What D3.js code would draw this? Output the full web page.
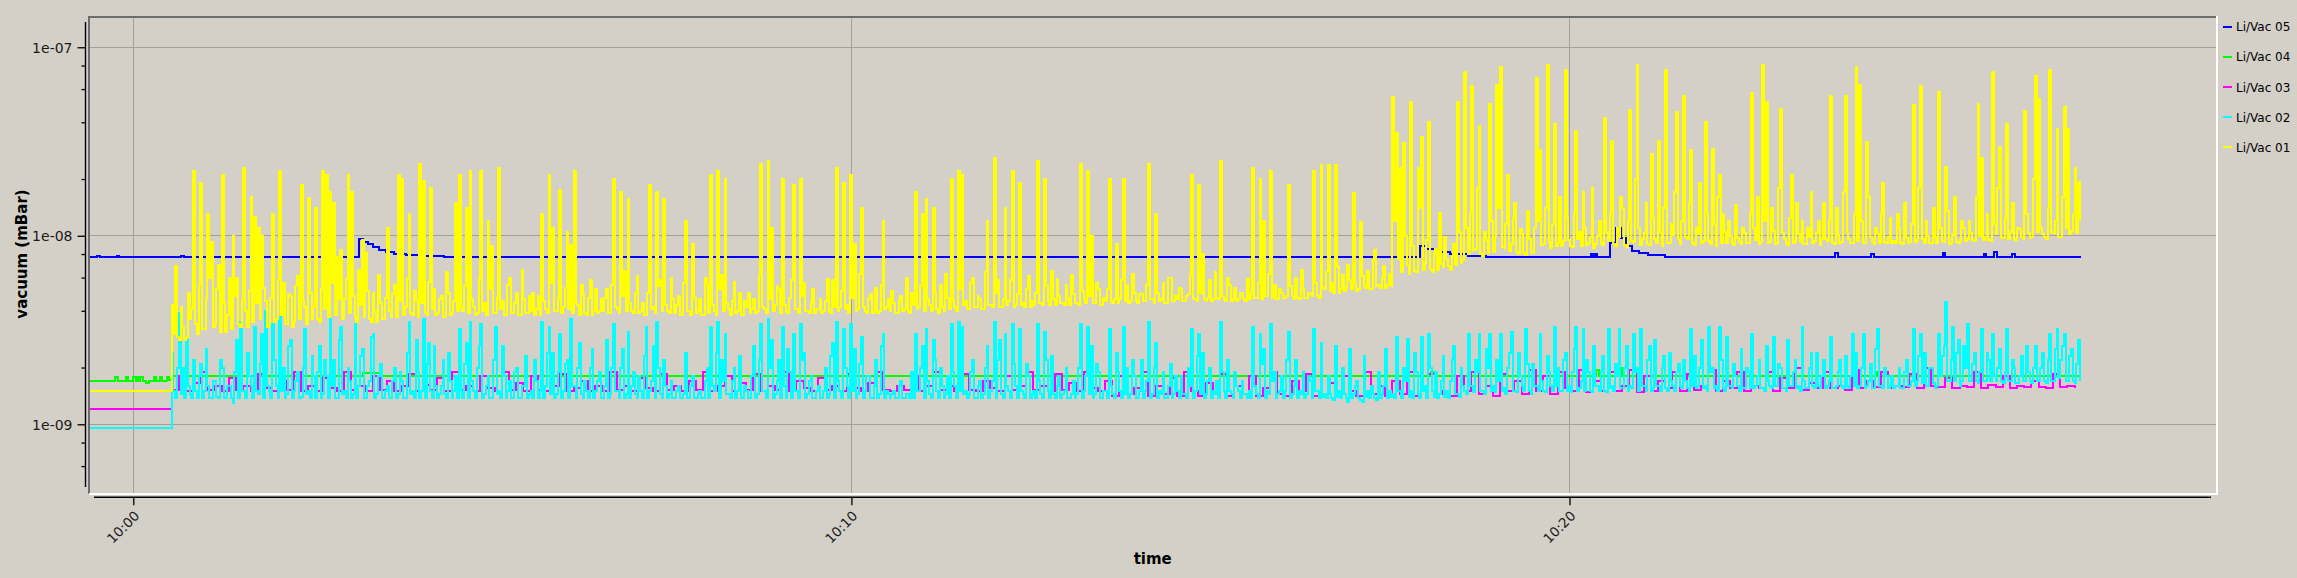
<!DOCTYPE html>
<html><head><meta charset="utf-8">
<script src="https://cdn.jsdelivr.net/npm/d3@7"></script>
<style>
html,body{margin:0;padding:0;background:#d4d0c8;}
svg{display:block;font-family:"DejaVu Sans",sans-serif;}
</style></head><body>
<svg id="chart" width="2297" height="578"></svg>
<script>
// ---------------- DATA (pressures in units of 1e-9 mBar) ----------------
const UNIT = 1e-9;
const seriesNames  = ["Li/Vac 05", "Li/Vac 04", "Li/Vac 03", "Li/Vac 02", "Li/Vac 01"];
const seriesColors = ["#0000ff", "#00ff00", "#ff00ff", "#00ffff", "#ffff00"];

const xTickSeconds = [0, 600, 1200];           // seconds after 10:00:00
const xTickLabels  = ["10:00", "10:10", "10:20"];
const yMajorTicks  = [1e-9, 1e-8, 1e-7];
const yTickLabels  = ["1e-09", "1e-08", "1e-07"];
const yMinorTicks  = [6e-10, 8e-10, 2e-9, 4e-9, 6e-9, 8e-9, 2e-8, 4e-8, 6e-8, 8e-8];

// levels before the pumps started (held from the left edge until 10:00:32)
const preLevel = { vac03: 1.21, vac02: 0.96, vac01: 1.51 };
const denseStart = 32;   // s after 10:00:00, first sample of the sampled series
const denseStep = 1.5;   // s between samples (Li/Vac 01 and 02)
const magStep = 6;       // s between samples (Li/Vac 03)

// Li/Vac 05 (blue) change points
const blueT = [-60,-30,-28,-14,-12,40,42,189,192,196,200,205,211,218,228,240,260,1075,1080,1088,1100,1115,1130,1218,1220,1221,1223,1234,1239,1243,1247,1252,1258,1266,1280,1422,1424,1452,1454,1512,1514,1546,1548,1555,1557,1570,1572,1627];
const blueV = [7.7,7.8,7.7,7.8,7.7,7.8,7.7,9.6,9.3,9.0,8.7,8.4,8.2,8.0,7.9,7.8,7.7,8.8,8.5,8.2,8.0,7.8,7.7,8.0,7.7,8.0,7.7,9.2,11,9.7,8.8,8.3,8.1,7.9,7.7,8.1,7.7,8.0,7.7,8.1,7.7,8.0,7.7,8.2,7.7,8.0,7.7,7.7];

// Li/Vac 04 (green) change points
const greenT = [-60,-15,-13,-6,-4,0,2,3,5,6,8,11,13,17,19,22,24,28,30,32,192,206,1084,1088,1222,1225,1238,1244,1457,1460,1627];
const greenV = [1.70,1.78,1.70,1.78,1.70,1.78,1.70,1.78,1.70,1.78,1.70,1.66,1.70,1.78,1.70,1.78,1.70,1.78,1.72,1.80,1.87,1.80,1.9,1.80,1.95,1.80,2.0,1.80,1.9,1.80,1.80];

// Li/Vac 03 (magenta), one row per minute, every 6 s from 10:00:32
const magentaV = [
1.52,1.8,1.5,1.65,1.9,1.52,1.6,1.5,1.75,1.52,
1.6,1.5,1.85,1.55,1.5,1.7,1.52,1.9,1.5,1.6,
1.5,1.75,1.55,1.5,1.9,1.52,1.6,1.5,1.8,1.52,
1.7,1.5,1.6,1.85,1.5,1.62,1.52,1.75,1.5,1.9,
1.52,1.6,1.5,1.8,1.55,1.5,1.9,1.52,1.65,1.5,
1.8,1.52,1.5,1.6,1.85,1.5,1.55,1.7,1.5,1.6,
1.5,1.9,1.52,1.6,1.5,1.75,1.55,1.5,1.85,1.52,
1.6,1.5,1.7,1.52,1.9,1.5,1.6,1.8,1.5,1.65,
1.52,1.85,1.5,1.6,1.52,1.9,1.5,1.7,1.55,1.5,
1.75,1.52,1.6,1.5,1.85,1.55,1.5,1.65,1.9,1.52,
1.5,1.6,1.52,1.8,1.5,1.6,1.9,1.52,1.6,1.5,
1.85,1.52,1.5,1.7,1.55,1.5,1.8,1.52,1.6,1.9,
1.52,1.6,1.5,1.85,1.52,1.65,1.5,1.9,1.55,1.5,
1.7,1.42,1.8,1.45,1.55,1.9,1.42,1.6,1.45,1.75,
1.42,1.9,1.5,1.42,1.65,1.45,1.85,1.42,1.6,1.45,
1.8,1.42,1.55,1.9,1.45,1.42,1.7,1.5,1.85,1.42,
1.45,1.65,1.42,1.8,1.5,1.42,1.9,1.45,1.6,1.42,
1.7,1.45,1.9,1.42,1.6,1.85,1.45,1.5,1.42,1.8,
1.5,1.9,1.45,1.6,1.42,1.85,1.5,1.7,1.45,1.95,
1.5,1.8,1.45,1.9,1.55,1.5,1.95,1.48,1.7,1.5,
1.9,1.5,1.6,1.95,1.48,1.8,1.5,1.7,1.55,1.9,
1.5,1.85,1.52,1.6,1.95,1.5,1.7,1.55,1.9,1.5,
1.6,1.55,1.9,1.5,1.75,1.55,2.0,1.52,1.65,1.55,
1.9,1.55,1.6,1.52,1.95,1.55,1.7,1.58,1.9,1.55,
1.6,1.58,1.85,1.55,2.0,1.6,1.58,1.75,1.56,1.6,
1.58,1.9,1.56,1.62,1.58,1.8,1.56,1.6,1.57,1.7,
1.58,1.56,1.85,1.57,1.6,1.56
];

// Li/Vac 02 (cyan), one row per minute, every 1.5 s from 10:00:32
const cyanV = [
2.4,1.5,1.38,2.0,3.9,1.45,2.0,1.38,2.8,1.6,1.45,1.38,2.2,1.5,1.38,1.8,2.1,1.38,1.5,2.5,1.6,1.38,1.38,1.7,1.7,1.4,1.38,2.2,2.0,1.38,1.38,1.6,1.6,1.38,1.3,1.9,2.8,1.38,3.5,1.5,
1.5,1.38,2.4,1.8,1.6,1.38,3.3,1.5,1.45,2.1,3.0,1.38,4.0,1.6,1.5,1.38,3.4,2.2,1.6,1.38,3.7,1.5,2.0,1.38,1.45,2.6,2.8,1.38,1.5,1.7,1.9,1.38,1.4,2.0,3.2,1.45,1.5,1.38,2.3,1.8,
1.38,1.9,2.6,1.38,1.45,2.2,1.8,1.38,3.6,1.6,2.2,1.38,1.38,2.8,3.3,1.45,1.5,1.38,2.0,1.7,1.38,1.45,3.4,1.38,1.6,2.3,2.5,1.38,1.38,1.6,1.7,2.9,3.0,1.38,1.45,1.8,2.1,1.38,1.38,1.5,
1.6,1.38,1.38,1.7,2.0,1.38,1.45,1.9,1.7,1.38,1.38,2.4,3.5,1.45,1.5,1.38,2.8,1.9,1.38,1.5,3.6,1.38,2.1,2.7,1.5,1.38,2.6,1.6,1.38,1.45,1.6,2.2,1.45,1.38,2.4,1.7,1.38,1.5,1.8,1.38,
3.2,1.5,1.38,2.1,2.7,1.38,3.5,1.7,1.5,1.38,2.0,2.6,3.4,1.38,1.45,1.6,1.8,1.38,1.38,2.2,3.3,1.45,1.5,1.38,2.6,1.8,1.38,1.5,1.7,1.38,1.38,1.9,2.0,1.38,1.38,1.6,1.6,2.3,1.38,1.45,
1.5,1.38,2.2,1.7,1.38,1.5,3.5,1.38,1.6,2.4,3.3,1.45,2.4,1.38,1.45,1.9,3.0,1.38,1.5,2.1,2.2,1.38,3.6,1.6,1.6,1.38,2.0,2.7,1.45,1.38,1.7,1.5,1.38,2.0,2.5,1.38,1.5,1.7,1.9,1.38,
1.38,1.6,2.8,1.38,1.45,2.0,3.4,1.5,1.5,1.38,2.0,2.5,1.38,1.45,3.1,1.38,1.6,1.9,1.45,1.38,1.8,1.5,1.38,2.3,3.3,1.38,1.5,1.7,2.6,1.38,3.5,2.0,1.45,1.38,2.2,1.6,1.38,1.45,1.7,1.38,
1.38,1.5,1.6,1.38,1.38,1.45,2.4,1.38,1.38,1.6,1.8,1.38,1.38,1.45,1.5,1.38,1.38,1.7,2.0,1.38,3.3,1.6,1.5,2.4,3.5,1.38,2.2,1.7,3.0,1.45,1.45,1.38,1.7,2.0,1.38,1.5,2.3,1.38,1.38,1.6,
1.5,1.38,1.38,1.8,2.6,1.38,1.45,2.2,3.4,1.5,1.5,1.38,3.6,2.0,2.8,1.38,1.45,1.7,2.2,1.38,3.3,1.6,1.38,2.5,1.9,1.38,3.0,1.5,1.5,1.38,3.4,2.2,2.4,1.38,1.45,1.7,1.8,1.38,1.38,1.5,
1.6,1.38,1.38,1.5,2.0,1.38,1.45,2.3,2.7,1.38,3.5,1.7,1.5,1.38,3.2,2.0,1.6,1.38,3.4,1.5,2.5,1.38,1.45,2.1,2.9,1.38,1.5,1.8,1.8,1.38,1.38,1.6,2.2,1.38,1.45,2.6,3.0,1.38,1.5,1.45,
1.38,1.45,1.5,1.38,1.38,1.6,1.7,1.38,1.38,1.45,1.45,1.38,1.9,1.38,3.0,1.5,1.5,2.0,2.6,1.38,3.2,1.7,1.45,1.38,2.8,2.2,1.5,1.38,2.0,1.6,1.38,1.45,1.8,1.38,3.4,1.9,1.6,1.38,3.5,1.5,
3.3,1.45,1.5,1.38,1.45,1.9,2.2,1.38,1.38,1.6,1.7,1.38,1.45,2.0,2.6,1.38,1.5,1.7,3.5,1.38,2.2,2.8,1.45,1.38,3.0,1.6,1.5,1.38,3.4,2.1,1.6,1.38,3.2,1.5,1.45,1.38,2.1,1.8,1.38,1.45,
1.5,1.38,3.4,1.7,1.45,1.38,3.1,2.2,1.5,1.38,2.3,1.45,1.38,1.6,1.8,1.38,1.45,1.5,2.0,1.38,1.38,1.45,1.7,1.38,1.45,2.0,3.4,1.38,1.5,1.8,3.3,1.45,2.6,1.38,1.45,2.1,1.9,1.38,1.38,1.5,
1.5,1.38,3.2,1.6,1.45,1.38,2.4,1.9,1.5,1.38,3.3,1.45,2.0,1.38,1.45,2.2,1.8,1.38,1.38,1.5,2.2,1.38,1.5,1.7,3.5,1.38,1.45,2.0,2.7,1.38,1.5,1.45,1.9,1.38,1.38,1.6,2.1,1.38,1.45,1.8,
1.5,1.38,1.8,1.45,1.45,1.38,2.0,1.6,3.2,1.38,1.5,2.3,3.0,1.45,2.4,1.38,1.45,1.7,2.0,1.38,1.5,1.45,1.7,1.38,3.5,1.9,1.5,1.38,2.2,1.5,1.45,1.38,1.9,1.6,1.5,1.38,1.7,1.45,1.45,1.38,
1.5,1.38,3.3,1.6,1.45,1.38,3.0,2.1,2.5,1.38,1.5,1.45,3.4,1.7,1.9,1.38,1.45,1.5,1.8,1.38,1.5,2.2,3.1,1.38,1.45,1.6,2.2,1.38,1.5,1.45,1.9,1.38,1.45,1.8,1.7,1.38,3.2,1.5,1.5,1.38,
2.7,1.4,1.45,1.38,1.8,1.45,1.38,1.35,2.6,1.4,1.5,1.38,2.0,1.45,1.38,1.32,2.5,1.38,1.45,1.6,1.7,1.38,1.35,1.32,2.3,1.4,1.5,1.38,1.6,1.45,1.38,1.35,1.9,1.38,1.45,1.6,2.5,1.38,1.5,1.4,
1.45,1.38,2.9,1.5,1.5,1.38,2.0,1.7,2.85,1.4,1.5,1.38,2.4,1.9,1.45,1.38,2.9,1.5,1.6,1.38,3.0,2.0,1.5,1.4,1.9,1.38,1.45,1.7,2.3,1.4,1.5,1.38,1.7,2.2,2.6,1.45,1.45,1.4,2.0,1.6,
1.5,1.45,3.0,1.6,1.6,1.48,2.2,1.9,3.0,1.5,1.5,1.45,2.5,2.0,3.0,1.5,1.6,1.48,2.2,1.7,3.0,1.5,1.55,1.45,2.0,2.4,3.1,1.5,1.5,1.48,2.4,1.8,1.6,1.5,3.2,2.1,1.5,1.45,2.1,1.6,
1.6,1.5,3.0,1.7,1.5,1.48,2.3,1.9,1.6,1.5,3.3,1.6,2.0,1.5,1.5,2.2,2.4,1.5,1.6,1.48,1.9,2.5,3.3,1.5,1.55,1.7,3.2,1.5,2.2,1.9,1.5,1.48,2.6,1.6,1.6,1.5,1.9,2.3,1.5,1.48,
3.2,1.55,1.6,1.5,2.1,1.8,3.2,1.55,1.55,2.0,2.6,1.5,1.6,1.55,3.0,1.9,2.0,1.5,3.2,1.6,1.6,1.5,2.2,2.6,1.5,1.55,2.8,1.6,1.6,1.5,2.0,2.3,1.55,1.5,2.4,1.7,1.6,1.5,1.9,2.1,
1.6,1.55,2.2,1.7,1.55,1.5,3.2,1.6,2.3,1.55,1.6,2.0,2.8,1.55,1.6,1.5,3.3,1.9,2.0,1.55,1.6,1.5,3.3,2.2,1.55,1.5,2.9,1.6,1.6,1.55,2.1,1.8,1.6,1.5,2.5,1.55,1.55,2.0,1.9,1.55,
3.0,1.55,1.6,1.8,2.2,1.55,1.55,1.5,2.6,1.7,1.6,1.55,2.9,1.6,1.6,2.1,2.0,1.55,1.55,1.5,2.8,1.6,1.6,1.9,2.2,1.55,1.6,1.5,3.3,1.7,1.55,1.55,2.0,2.4,1.6,1.55,2.4,1.6,1.55,1.8,
2.2,1.55,1.6,1.7,2.9,1.55,1.55,1.6,1.9,2.2,1.6,1.55,2.3,1.6,1.55,1.8,3.0,1.6,2.4,1.55,1.6,2.0,3.0,1.55,1.6,1.7,2.1,1.55,1.55,2.5,3.2,1.6,1.6,1.55,2.0,1.8,1.55,1.6,1.8,1.55,
1.6,1.6,2.0,1.55,1.55,1.9,2.2,1.6,1.6,1.7,3.2,1.6,1.7,2.3,3.0,1.65,2.4,1.6,1.6,2.0,2.0,1.65,1.55,1.6,3.0,1.8,2.3,2.6,4.45,1.7,1.7,2.2,3.3,1.7,2.4,2.8,1.6,1.7,2.6,2.0,
3.4,1.7,1.7,2.1,2.4,1.7,1.65,1.9,3.2,1.7,1.7,2.4,2.2,1.7,3.0,1.8,1.7,2.0,2.5,1.7,1.65,1.9,3.2,1.7,1.7,2.2,2.0,1.65,1.65,1.8,2.3,1.7,1.7,2.6,1.9,1.7,1.65,2.0,2.6,1.7,
1.7,2.0,2.4,1.7,1.65,2.2,3.0,1.7,1.7,2.5,3.2,1.75,2.2,2.6,3.0,1.7,1.7,2.3,2.5,1.7,1.65,2.1,2.8,1.7
];

// Li/Vac 01 (yellow), one row per minute, every 1.5 s from 10:00:32
const yellowV = [
4.3,3.0,6.9,2.9,2.8,4.2,3.3,2.8,2.9,5.0,3.6,4.1,22,3.4,3.0,5.5,19,3.2,3.2,4.6,13,6.0,9.3,3.3,3.4,5.2,7.0,3.1,21,4.4,3.1,3.8,6.0,3.2,10,4.8,6.0,3.4,3.3,4.5,
23,4.0,3.3,5.1,16,3.5,12.6,4.4,11,3.6,10,5.3,4.5,3.3,3.4,4.7,13,3.5,3.6,5.8,22,3.8,5.6,3.4,3.4,4.9,4.8,3.3,3.5,5.4,6.1,3.6,18.6,4.5,4.2,3.4,15.8,5.0,3.6,4.2,
14,3.6,3.5,5.2,22,4.1,21,3.7,17,5.6,15,3.8,7.7,4.6,8.4,3.6,4.6,5.9,21,3.9,17,4.8,3.7,3.5,6.6,4.3,9.5,3.7,8.1,5.1,3.6,3.5,5.0,4.0,3.5,6.2,4.4,3.6,3.6,4.7,
11,4.0,3.7,4.9,5.5,3.7,21,4.5,20,3.8,4.2,6.0,13,3.9,3.8,5.1,4.5,3.7,24,4.4,19.5,3.9,3.8,5.7,18,4.1,5.2,3.8,3.9,4.6,4.8,3.7,3.7,6.4,5.0,3.8,3.9,4.5,15,4.0,
21,4.2,4.0,5.4,14,3.9,22,4.6,4.2,3.8,3.9,5.9,22,4.0,4.4,3.8,12,5.2,8.8,3.9,3.9,4.7,23,4.1,4.5,3.8,3.8,5.5,6.0,3.9,3.9,4.4,5.0,3.8,3.8,6.6,4.6,3.9,3.9,4.8,
4.0,5.0,3.8,4.1,4.8,3.8,13,4.5,4.1,3.9,21,5.6,11,4.0,4.0,4.6,17.5,3.9,4.2,5.3,10.5,4.1,8.9,3.9,22,4.4,4.3,3.8,5.5,4.9,3.9,3.8,4.7,5.8,3.8,4.0,5.2,3.9,4.0,4.6,
4.0,4.7,5.2,3.9,3.9,5.5,20,4.2,4.1,3.9,17,4.8,6.5,4.0,15.6,4.4,4.0,3.9,5.0,6.1,3.9,4.0,4.4,3.8,3.8,5.0,18.7,4.1,4.2,3.9,17,5.4,5.8,4.0,15.6,4.3,4.0,3.9,6.0,4.6,
3.9,4.3,4.8,3.8,3.8,5.6,12,4.0,4.0,3.8,9.0,4.7,3.9,4.0,4.6,3.8,3.8,6.0,5.5,3.9,21,4.3,4.0,3.8,22,5.2,6.2,4.0,20,4.4,4.1,3.8,4.5,5.7,3.9,4.0,5.0,3.8,3.8,4.5,
4.2,5.0,3.9,4.1,4.6,3.9,4.0,6.2,24,4.2,4.1,3.9,25,4.6,11,4.0,4.3,5.4,5.2,3.9,20,4.3,4.0,3.9,4.7,5.8,18.7,4.1,4.1,3.9,20,4.8,5.6,4.0,4.0,3.9,4.4,5.2,3.9,4.1,
4.1,4.6,3.9,4.0,4.5,5.9,4.0,3.9,5.8,4.2,23,4.0,4.2,5.1,19,4.1,4.3,3.9,21,4.7,9.0,4.0,4.1,6.3,14,4.2,4.0,3.9,4.6,4.9,3.9,4.0,5.3,3.9,4.0,5.5,12,4.1,4.2,4.6,
4.0,5.1,4.4,3.9,3.9,4.5,4.8,4.0,4.1,6.0,4.0,3.9,5.0,4.3,17,4.1,4.2,5.4,13,4.0,15.6,4.6,4.3,4.0,14,5.0,4.1,3.9,5.5,4.2,4.0,6.3,4.7,4.1,20,4.5,4.2,4.0,22,5.2,
21,4.3,4.5,4.1,4.1,5.6,6.0,4.2,4.2,4.8,4.6,4.1,4.1,6.4,12,4.3,4.3,4.2,26,5.0,5.8,4.2,4.2,4.6,14,4.3,4.5,5.8,22,4.2,4.3,4.9,19,4.3,4.4,4.2,5.2,6.1,4.2,4.5,
4.3,5.0,25,4.4,4.4,4.3,20,5.4,4.5,4.3,6.5,4.6,4.3,5.9,4.8,4.4,4.4,4.3,5.5,4.7,4.3,6.2,4.9,4.4,4.4,4.3,24,5.1,4.6,4.4,22,4.8,10,4.4,4.4,5.6,5.2,4.3,4.3,4.7,
4.5,5.2,20,4.5,4.4,4.6,9.0,4.4,4.6,5.8,20,4.5,5.5,4.4,4.5,6.3,5.0,4.5,4.4,4.9,4.9,4.5,4.5,5.5,24,4.6,4.6,4.4,13,5.0,4.5,4.6,5.6,4.4,4.4,6.0,6.0,4.5,4.5,4.8,
4.6,5.3,5.2,4.5,4.5,4.8,4.9,6.2,21,4.6,4.6,4.5,18.7,5.0,8.0,4.6,4.5,4.7,5.8,4.5,4.6,6.4,4.7,4.6,25,4.8,4.6,4.5,6.0,5.5,4.5,4.6,5.3,4.5,4.6,5.0,5.0,4.6,4.5,5.9,
4.6,5.0,23,4.7,4.7,5.6,20,4.6,12,4.8,4.8,6.3,22,4.7,5.5,4.6,4.6,5.2,5.0,4.7,4.7,4.8,18.7,5.4,4.8,4.6,6.0,4.7,4.6,6.6,5.2,4.7,4.7,5.0,4.9,4.8,22,5.6,4.8,4.7,
23.7,5.3,5.2,6.4,23.7,5.1,5.6,5.0,23.7,6.8,5.0,5.2,6.2,5.1,5.3,7.0,5.8,5.2,16.8,5.6,5.1,5.2,11.9,6.1,5.4,5.3,6.5,5.2,5.2,7.4,8.4,5.4,5.5,5.3,6.0,6.9,5.3,5.5,6.3,5.4,
54.7,12,35,7.5,23,6.4,31,10,7.0,6.3,51.5,8.8,6.5,6.4,23,14,33.5,6.6,7.2,9.5,40.3,6.7,6.4,8.0,8.5,6.6,13.2,7.1,6.8,9.8,7.5,6.9,6.6,7.8,9.0,7.0,51.5,10.5,7.2,7.4,
74.3,11,8.0,13,62.4,8.4,8.5,18,38,8.0,7.8,10.5,9.5,8.1,50,12,8.2,9.8,63,14,79,8.7,8.6,11.5,21,8.3,9.0,12.5,15,8.2,8.0,10.8,10.2,8.1,7.9,13.5,9.6,8.2,8.1,11,
68.5,12,28.5,8.9,9.0,14,80.5,9.3,8.6,11.5,39,8.8,9.2,16,8.8,9.4,76,12.5,9.5,8.8,8.7,13,36,9.6,10.5,8.8,17,11,8.9,9.2,9.8,18,8.6,9.0,10.0,12,9.1,8.9,42,10.5,
9.4,13,32,9.0,8.8,11,9.9,16,14,8.9,8.7,12,46.5,9.4,9.3,20,80.5,11,8.9,9.6,10.4,15,9.0,8.9,27,12.5,9.6,9.1,32,10.5,8.8,14,76,9.2,9.2,11.5,10.1,17,45.5,9.6,
9.0,12,55,9.8,9.6,15,28.5,9.1,8.9,11,10.2,19,9.1,9.4,40,13,9.4,9.0,29,11.5,8.8,16,21,9.2,13,10.5,9.2,12,10.0,9.1,8.9,14.5,9.7,9.3,9.0,11,10.4,9.2,9.2,13,
57,11,9.5,16,9.0,9.3,80.5,12,51,9.2,9.3,14,10.6,9.0,9.1,18,47,10.5,9.6,9.2,8.9,12.5,21,9.1,9.4,15,10.2,9.3,12,9.0,9.0,11,9.8,17,9.2,9.4,10.3,12,8.9,9.6,
15,9.6,9.4,12,55,9.2,9.0,14,10.1,9.1,9.3,17,55,10.5,9.6,9.2,9.1,13,79,9.4,63,12,9.2,9.1,31.5,16,9.8,9.3,9.0,11,10.2,9.2,13,19,9.3,9.1,9.9,12.5,9.1,9.4,
9.2,13,11,9.1,9.0,15,9.7,9.2,9.3,11.5,49.5,9.3,9.5,18,62,9.6,9.1,12,10.0,9.2,9.2,14,9.8,9.1,58,11,9.4,9.3,23.3,13.5,9.0,9.1,10.1,16,9.3,9.2,9.5,12,11,9.4,
9.6,12,10.3,9.5,9.4,16,50,10,26,9.5,9.8,13,9.5,9.4,74,11.5,10.2,18,29.6,9.7,9.7,12.5,39,9.6,10.5,15,9.6,9.5,11,10.8,9.8,9.6,46,13,10.4,9.7,9.9,20,70,10.5,
53,11,10.2,9.8,9.6,14,76,10.5,10.4,12,37,9.9,9.9,16,48,11,37,10.2,10.6,13,23,10.4,19.3,12
];

// ---------------- CHART ----------------
const base = new Date(2024, 0, 1, 10, 0, 0);
const sec = s => new Date(base.getTime() + s * 1000);

const plot = { left: 89, top: 17, right: 2217, bottom: 494 };
const x = d3.scaleTime().domain([sec(-37), sec(1741)]).range([plot.left, plot.right]);
const y = d3.scaleLog().domain([4.267e-10, 1.4475e-7]).range([plot.bottom, plot.top]);

const svg = d3.select("#chart");
svg.append("rect").attr("width", 2297).attr("height", 578).attr("fill", "#d4d0c8");

// grid
const grid = svg.append("g").attr("stroke", "#a3a09c").attr("stroke-width", 1.2).attr("shape-rendering", "crispEdges");
xTickSeconds.forEach(s => grid.append("line").attr("x1", x(sec(s))).attr("x2", x(sec(s))).attr("y1", plot.top).attr("y2", plot.bottom));
yMajorTicks.forEach(v => grid.append("line").attr("x1", plot.left).attr("x2", plot.right).attr("y1", y(v)).attr("y2", y(v)));

// series
svg.append("clipPath").attr("id", "clip").append("rect")
  .attr("x", plot.left + 1).attr("y", plot.top + 1)
  .attr("width", plot.right - plot.left - 2).attr("height", plot.bottom - plot.top - 2);

const fromPairs = (T, V) => T.map((t, i) => ({ t: sec(t), v: V[i] * UNIT }));
const fromGrid = (pre, start, step, V) =>
  [{ t: sec(-60), v: pre * UNIT }].concat(V.map((v, i) => ({ t: sec(start + i * step), v: v * UNIT })));

const series = [
  fromPairs(blueT, blueV),
  fromPairs(greenT, greenV),
  fromGrid(preLevel.vac03, denseStart, magStep, magentaV),
  fromGrid(preLevel.vac02, denseStart, denseStep, cyanV),
  fromGrid(preLevel.vac01, denseStart, denseStep, yellowV)
];

const line = d3.line().x(d => x(d.t)).y(d => y(d.v)).curve(d3.curveStepAfter);
const gData = svg.append("g").attr("clip-path", "url(#clip)");
series.forEach((s, i) => {
  gData.append("path").datum(s).attr("d", line)
    .attr("fill", "none").attr("stroke", seriesColors[i]).attr("stroke-width", 2)
    .attr("shape-rendering", "crispEdges");
});

// frame (sunken look)
const frame = svg.append("g").attr("shape-rendering", "crispEdges");
frame.append("line").attr("x1", plot.left - 1).attr("x2", plot.right).attr("y1", plot.top).attr("y2", plot.top).attr("stroke", "#6c6c6c").attr("stroke-width", 2);
frame.append("line").attr("x1", plot.left).attr("x2", plot.left).attr("y1", plot.top).attr("y2", plot.bottom).attr("stroke", "#6c6c6c").attr("stroke-width", 2);
frame.append("line").attr("x1", plot.right).attr("x2", plot.right).attr("y1", plot.top - 1).attr("y2", plot.bottom + 1).attr("stroke", "#ffffff").attr("stroke-width", 2);
frame.append("line").attr("x1", plot.left).attr("x2", plot.right + 1).attr("y1", plot.bottom).attr("y2", plot.bottom).attr("stroke", "#ffffff").attr("stroke-width", 2);

// y axis
const yAxisX = 85.5;
const yAxisG = svg.append("g").attr("transform", `translate(${yAxisX},0)`);
yAxisG.call(d3.axisLeft(y).tickValues(yMajorTicks).tickSize(8).tickPadding(5)
  .tickFormat((d, i) => yTickLabels[i]));
yAxisG.select(".domain").remove();
yAxisG.append("line").attr("x1", 0).attr("x2", 0).attr("y1", 22).attr("y2", 487).attr("stroke", "#000").attr("stroke-width", 1.4);
const yMinorG = svg.append("g").attr("transform", `translate(${yAxisX},0)`);
yMinorG.call(d3.axisLeft(y).tickValues(yMinorTicks).tickSize(4).tickFormat(""));
yMinorG.select(".domain").remove();
svg.selectAll(".tick line").attr("stroke", "#000").attr("stroke-width", 1.3);
yAxisG.selectAll(".tick text").attr("font-family", "DejaVu Sans").attr("font-size", 14).attr("fill", "#1a1a1a")
  .attr("dy", "0.36em");

// x axis
const xAxisY = 497.3;
const xAxisG = svg.append("g").attr("transform", `translate(0,${xAxisY})`);
xAxisG.call(d3.axisBottom(x).tickValues(xTickSeconds.map(sec)).tickSize(8)
  .tickFormat((d, i) => xTickLabels[i]));
xAxisG.select(".domain").remove();
xAxisG.append("line").attr("x1", 94).attr("x2", 2211).attr("y1", 0).attr("y2", 0).attr("stroke", "#000").attr("stroke-width", 1.4);
xAxisG.selectAll(".tick line").attr("stroke", "#000").attr("stroke-width", 1.3);
xAxisG.selectAll(".tick text")
  .attr("font-family", "DejaVu Sans").attr("font-size", 13.5).attr("fill", "#1a1a1a")
  .attr("text-anchor", "end").attr("dy", 0).attr("y", 0)
  .attr("transform", "translate(6.5,19.5) rotate(-45)");

// axis titles
svg.append("text").attr("x", 1152.7).attr("y", 564.3).attr("text-anchor", "middle")
  .attr("font-size", 15).attr("font-weight", "bold").attr("fill", "#000").text("time");
svg.append("text").attr("transform", "translate(26.5,254) rotate(-90)").attr("text-anchor", "middle")
  .attr("font-size", 15).attr("font-weight", "bold").attr("fill", "#000").text("vacuum (mBar)");

// legend
const legend = svg.append("g");
seriesNames.forEach((name, i) => {
  const ly = 26.7 + i * 30.15;
  legend.append("line").attr("x1", 2223.3).attr("x2", 2232).attr("y1", ly).attr("y2", ly)
    .attr("stroke", seriesColors[i]).attr("stroke-width", 2).attr("shape-rendering", "crispEdges");
  legend.append("text").attr("x", 2236).attr("y", ly + 4.6).attr("font-size", 12).attr("fill", "#000").text(name);
});
</script>
</body></html>
